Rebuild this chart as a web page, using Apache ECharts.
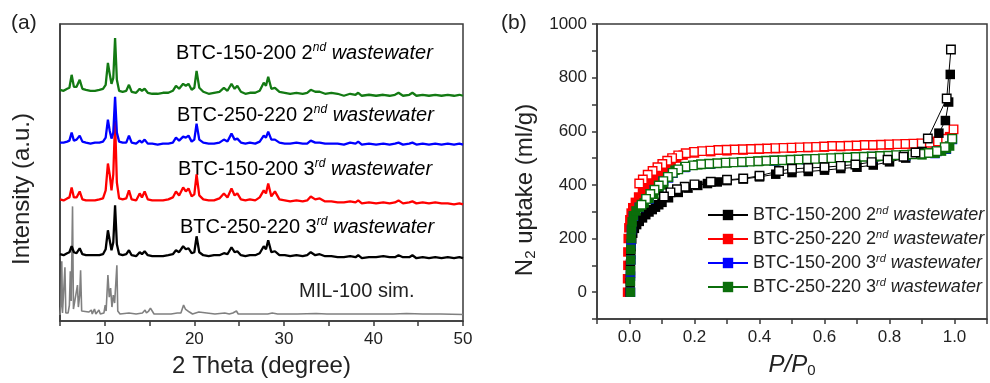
<!DOCTYPE html>
<html>
<head>
<meta charset="utf-8">
<script src="https://cdn.jsdelivr.net/npm/echarts@6/dist/echarts.min.js"></script>
<style>
    html, body { margin: 0; padding: 0; background: #fff; }
    #chart1 { width: 990px; height: 383px; }
</style>
</head>
<body>
<div id="chart1"></div>
<script>
// ---------- (a) XRD patterns ----------
var thetaExp = [5.0, 5.4, 5.8, 6.05, 6.3, 6.55, 6.85, 7.2, 7.5, 7.9,
    8.4, 8.9, 9.4, 9.8, 10.1, 10.35, 10.55, 10.75, 10.95, 11.15,
    11.35, 11.6, 12.0, 12.4, 12.7, 13.0, 13.5, 13.9, 14.15, 14.45,
    14.8, 15.3, 15.9, 16.5, 17.1, 17.6, 17.95, 18.3, 18.75, 19.05,
    19.35, 19.7, 20.0, 20.25, 20.55, 21.0, 21.6, 22.2, 22.8, 23.3,
    23.7, 24.15, 24.5, 24.8, 25.2, 25.7, 26.2, 26.8, 27.3, 27.75,
    28.0, 28.25, 28.6, 29.0, 29.5, 30.1, 30.7, 31.4, 32.1, 32.6,
    33.0, 33.5, 34.0, 34.6, 35.3, 36.0, 36.7, 37.4, 38.0, 38.3,
    38.7, 39.5, 40.3, 41.1, 41.8, 42.4, 42.8, 43.3, 44.0, 44.35,
    44.8, 45.5, 46.2, 46.9, 47.6, 48.3, 49.0, 49.6, 50.0];

var xrd150_2nd = [6, 5, 7, 8, 21, 9, 9, 16, 7, 6,
    5, 5, 6, 7, 11, 33, 22, 12, 18, 58,
    16, 5, 4, 5, 11, 4, 3, 7, 5, 7,
    3, 2, 2, 3, 3, 5, 10, 7, 12, 10,
    12, 6, 8, 25, 8, 4, 2, 3, 4, 8,
    5, 12, 7, 10, 4, 2, 3, 3, 5, 13,
    10, 19, 7, 8, 4, 3, 2, 3, 2, 3,
    6, 4, 4, 2, 3, 2, 0, 2, 1, 3,
    0, 1, 0, 1, 0, 1, 3, 0, 1, 3,
    0, 1, 0, 1, 0, 1, 0, 1, 0];

var xrd250_2nd = [2, 2, 3, 4, 12, 4, 5, 9, 3, 2,
    1, 2, 2, 3, 7, 25, 14, 6, 12, 48,
    12, 3, 2, 2, 9, 2, 1, 4, 2, 5,
    1, 1, 0, 1, 1, 2, 7, 4, 8, 7,
    9, 3, 5, 21, 5, 2, 1, 1, 2, 5,
    3, 11, 5, 6, 2, 1, 2, 1, 3, 9,
    7, 13, 5, 5, 2, 1, 1, 2, 1, 1,
    4, 2, 2, 1, 1, 1, 0, 2, 1, 3,
    0, 1, 0, 1, 0, 1, 2, 0, 1, 2,
    0, 1, 0, 1, 0, 1, 0, 1, 0];

var xrd150_3rd = [5, 4, 6, 7, 17, 7, 7, 13, 5, 4,
    4, 4, 5, 6, 14, 41, 30, 14, 30, 84,
    22, 6, 5, 6, 14, 5, 4, 11, 7, 13,
    5, 4, 4, 4, 5, 7, 13, 9, 17, 13,
    16, 8, 10, 30, 9, 5, 4, 4, 6, 11,
    7, 16, 9, 11, 5, 4, 5, 4, 7, 14,
    11, 21, 8, 13, 5, 4, 3, 4, 3, 4,
    8, 5, 6, 3, 3, 2, 2, 3, 2, 4,
    1, 2, 1, 2, 1, 2, 4, 1, 2, 3,
    1, 2, 1, 2, 1, 1, 0, 1, 0];

var xrd250_3rd = [4, 3, 5, 6, 12, 6, 5, 10, 4, 3,
    3, 3, 3, 4, 9, 28, 18, 8, 16, 53,
    14, 4, 3, 4, 8, 3, 2, 6, 4, 7,
    3, 2, 2, 2, 3, 4, 8, 6, 12, 9,
    10, 5, 6, 22, 6, 3, 2, 3, 3, 5,
    4, 11, 6, 7, 3, 2, 3, 3, 5, 12,
    9, 18, 6, 7, 3, 3, 2, 3, 2, 3,
    6, 3, 4, 2, 2, 1, 1, 2, 1, 3,
    0, 1, 1, 2, 1, 1, 3, 1, 1, 3,
    0, 1, 0, 1, 0, 1, 0, 1, 0];

var simTheta = [5.0, 5.1, 5.2, 5.28, 5.45, 5.55, 5.65, 5.9, 6.05, 6.15, 6.25, 6.4, 6.5, 6.7, 6.95, 7.05, 7.2, 7.3, 7.42, 7.6,
    8.2, 8.5, 8.6, 8.85, 9.0, 9.35, 9.5, 9.9, 10.05, 10.15, 10.35, 10.5, 10.65, 10.8, 10.95, 11.1, 11.35, 11.45, 11.7, 12.7,
    13.5, 14.2, 14.5, 14.65, 14.9, 15.1, 15.3, 15.5, 16.3, 17.4, 18.1, 18.3, 18.5, 18.8, 19.0, 19.2, 19.45, 19.6, 19.8, 20.5,
    20.7, 22.3, 23.4, 23.9, 24.3, 24.7, 24.9, 25.8, 27.2, 28.2, 28.7, 29.3, 31.5, 33.6, 34.8, 36.8, 38.5, 40.2, 42.2, 43.7,
    45.5, 47.5, 50.0];
var simInt = [0, 10, 54, 2, 3, 48, 2, 2, 10, 44, 14, 109, 6, 5, 30, 8, 20, 45, 4, 2,
    3, 5, 1, 6, 1, 5, 1, 2, 10, 4, 40, 18, 27, 8, 20, 12, 50, 4, 1, 2,
    1, 2, 5, 2, 4, 7, 6, 1, 1, 1, 2, 4, 2, 10, 6, 8, 3, 5, 1, 3,
    1, 1, 2, 1, 2, 4, 1, 1, 1, 1, 2, 1, 1, 1.5, 1, 1, 1, 1, 1, 1.5,
    1, 1, 0.5];

// vertical offsets of the stacked patterns (a.u.)
var stackBase = [226, 177, 117, 63, 6];

// ---------- (b) N2 isotherms  [P/P0, uptake ml/g] ----------
var iso150_2nd_ads = [[0.002, 0], [0.002, 35], [0.003, 70], [0.003, 105], [0.004, 140], [0.005, 170], [0.007, 198], [0.010, 220],
    [0.015, 238], [0.022, 252], [0.030, 264], [0.040, 277], [0.050, 289], [0.060, 299], [0.070, 308], [0.080, 317],
    [0.090, 326], [0.100, 335], [0.120, 352], [0.150, 372], [0.180, 388], [0.210, 398], [0.240, 405], [0.270, 411],
    [0.300, 416], [0.350, 422], [0.400, 430], [0.450, 440], [0.500, 446], [0.550, 450], [0.600, 455], [0.650, 461],
    [0.700, 466], [0.750, 474], [0.800, 486], [0.850, 500], [0.900, 525], [0.952, 593], [0.972, 640], [0.982, 709], [0.987, 812]];
var iso150_2nd_des = [[0.989, 905], [0.976, 722], [0.918, 573], [0.880, 521], [0.843, 505], [0.794, 494], [0.745, 485],
    [0.695, 476], [0.650, 471], [0.600, 466], [0.550, 463], [0.500, 460], [0.460, 452], [0.400, 434], [0.350, 424],
    [0.300, 419], [0.250, 412], [0.200, 402], [0.170, 393], [0.146, 384], [0.126, 372], [0.106, 357]];

var iso250_2nd_ads = [[-0.006, 0], [-0.006, 50], [-0.005, 100], [-0.005, 150], [-0.004, 200], [-0.002, 240], [0.001, 270],
    [0.005, 295], [0.010, 315], [0.018, 335], [0.028, 355], [0.040, 375], [0.053, 393], [0.067, 410], [0.082, 426],
    [0.097, 442], [0.112, 460], [0.128, 482], [0.145, 500], [0.165, 511], [0.200, 519], [0.250, 524], [0.300, 527],
    [0.350, 530], [0.400, 533], [0.450, 535], [0.500, 537], [0.550, 539], [0.600, 541], [0.650, 543], [0.700, 545],
    [0.750, 547], [0.800, 549], [0.850, 551], [0.900, 554], [0.940, 558], [0.965, 565], [0.985, 580]];
var iso250_2nd_des = [[0.997, 607], [0.972, 572], [0.948, 562], [0.923, 557], [0.898, 555], [0.873, 554], [0.848, 553],
    [0.823, 552], [0.798, 551], [0.773, 550], [0.748, 549], [0.723, 549], [0.698, 547], [0.673, 546], [0.648, 545],
    [0.623, 545], [0.598, 543], [0.573, 542], [0.548, 541], [0.523, 540], [0.498, 539], [0.473, 538], [0.448, 537],
    [0.423, 536], [0.398, 535], [0.373, 534], [0.348, 533], [0.323, 532], [0.298, 531], [0.273, 530], [0.248, 528],
    [0.223, 526], [0.198, 523], [0.173, 518], [0.150, 510], [0.131, 500], [0.116, 490], [0.101, 478], [0.086, 466],
    [0.071, 452], [0.056, 438], [0.041, 420], [0.030, 405]];

var iso150_3rd_ads = [[0.003, 0], [0.003, 60], [0.004, 120], [0.005, 180], [0.006, 232], [0.012, 283], [0.030, 316],
    [0.060, 347], [0.090, 381], [0.120, 426], [0.170, 465], [0.250, 478], [0.350, 484], [0.450, 490], [0.550, 494],
    [0.650, 498], [0.750, 502], [0.850, 508], [0.940, 517], [0.975, 533]];
var iso150_3rd_des = [[0.993, 570], [0.945, 525], [0.845, 511], [0.745, 505], [0.645, 500], [0.545, 495], [0.445, 490],
    [0.345, 485], [0.245, 478], [0.172, 467], [0.133, 444], [0.104, 413], [0.077, 381], [0.051, 347]];

var iso250_3rd_ads = [[0.003, 0], [0.003, 40], [0.003, 80], [0.004, 120], [0.004, 160], [0.005, 200], [0.006, 235],
    [0.008, 262], [0.012, 285], [0.020, 303], [0.030, 317], [0.045, 333], [0.060, 349], [0.075, 365], [0.090, 382],
    [0.105, 400], [0.120, 428], [0.140, 455], [0.170, 466], [0.210, 475], [0.250, 479], [0.300, 482], [0.350, 485],
    [0.400, 488], [0.450, 491], [0.500, 493], [0.550, 495], [0.600, 497], [0.650, 499], [0.700, 501], [0.750, 503],
    [0.800, 506], [0.850, 509], [0.900, 512], [0.940, 518], [0.960, 526], [0.975, 535], [0.985, 545]];
var iso250_3rd_des = [[0.993, 572], [0.970, 541], [0.945, 526], [0.920, 519], [0.895, 516], [0.870, 514], [0.845, 512],
    [0.820, 511], [0.795, 509], [0.770, 508], [0.745, 506], [0.720, 505], [0.695, 504], [0.670, 502], [0.645, 501],
    [0.620, 500], [0.595, 499], [0.570, 497], [0.545, 496], [0.520, 495], [0.495, 494], [0.470, 492], [0.445, 491],
    [0.420, 490], [0.395, 488], [0.370, 487], [0.345, 486], [0.320, 484], [0.295, 483], [0.270, 481], [0.245, 479],
    [0.220, 477], [0.195, 473], [0.172, 468], [0.150, 458], [0.133, 445], [0.118, 430], [0.104, 414], [0.090, 398],
    [0.077, 382], [0.064, 366], [0.051, 348], [0.037, 326]];

var legendNames = ['BTC-150-200 2nd wastewater', 'BTC-250-220 2nd wastewater',
    'BTC-150-200 3rd wastewater', 'BTC-250-220 3rd wastewater'];

var FONT = 'Liberation Sans';
var AXIS_COLOR = '#3a3a3a';
var TEXT_COLOR = '#222';

function richStyle(size) {
    return {
        n: {fontFamily: FONT, fontSize: size, lineHeight: size + 2, color: TEXT_COLOR},
        i: {fontFamily: FONT, fontSize: size, lineHeight: size + 2, color: TEXT_COLOR, fontStyle: 'italic'},
        s: {fontFamily: FONT, fontSize: Math.round(size * 0.6), lineHeight: Math.round(size * 0.6), color: TEXT_COLOR,
            fontStyle: 'italic', verticalAlign: 'top'}
    };
}

// 'BTC-150-200 2nd wastewater' -> rich string with superscript
function supText(name) {
    var m = name.match(/^(.* \d)(nd|rd) (.*)$/);
    return '{n|' + m[1] + '}{s|' + m[2] + '}{i| ' + m[3] + '}';
}

function xrdLine(name, base, vals, color) {
    var data = [];
    for (var i = 0; i < thetaExp.length; i++) {
        data.push([thetaExp[i], base + vals[i]]);
    }
    return {
        name: name, type: 'line', xAxisIndex: 0, yAxisIndex: 0, data: data,
        symbol: 'none', lineStyle: {color: color, width: 2.3}, silent: true
    };
}

function isoLine(name, data, color, hollow) {
    return {
        name: name, type: 'line', xAxisIndex: 1, yAxisIndex: 1, data: data,
        symbol: 'rect', symbolSize: hollow ? 8.5 : 9.5,
        itemStyle: hollow ? {color: '#fff', borderColor: color, borderWidth: 1.4} : {color: color},
        lineStyle: {color: color, width: 1},
        emphasis: {disabled: true}
    };
}

var simData = [];
for (var k = 0; k < simTheta.length; k++) {
    simData.push([simTheta[k], stackBase[4] + simInt[k]]);
}

var axisLineStyle = {onZero: false, lineStyle: {color: AXIS_COLOR, width: 1.5}};

var myChart = echarts.init(document.getElementById('chart1'));
var option = {
    animation: false,
    backgroundColor: '#fff',
    textStyle: {fontFamily: FONT},
    grid: [
        {left: 60, top: 24, width: 403, height: 298, show: true, borderColor: AXIS_COLOR, borderWidth: 1.5},
        {left: 597, top: 24, width: 405, height: 299, show: true, borderColor: AXIS_COLOR, borderWidth: 1.5}
    ],
    xAxis: [
        {
            gridIndex: 0, type: 'value', min: 5, max: 50, interval: 5,
            axisLine: axisLineStyle,
            axisTick: {length: 5, lineStyle: {color: AXIS_COLOR, width: 1.5}},
            axisLabel: {
                fontSize: 17, color: TEXT_COLOR, margin: 10,
                formatter: function (v) { return v % 10 === 0 ? String(v) : ''; }
            },
            splitLine: {show: false},
            name: '2 Theta (degree)', nameLocation: 'middle', nameGap: 33,
            nameTextStyle: {fontSize: 24, color: TEXT_COLOR}
        },
        {
            gridIndex: 1, type: 'value', min: -0.1, max: 1.1, interval: 0.1,
            axisLine: axisLineStyle,
            axisTick: {length: 5, lineStyle: {color: AXIS_COLOR, width: 1.5}},
            axisLabel: {
                fontSize: 17, color: TEXT_COLOR, margin: 10,
                formatter: function (v) {
                    var t = Math.round(v * 10);
                    return (t >= 0 && t <= 10 && t % 2 === 0) ? (t / 10).toFixed(1) : '';
                }
            },
            splitLine: {show: false},
            name: '{i|P/P}{b|0}', nameLocation: 'middle', nameGap: 33,
            nameTextStyle: {
                rich: {
                    i: {fontFamily: FONT, fontSize: 24, fontStyle: 'italic', color: TEXT_COLOR, lineHeight: 26},
                    b: {fontFamily: FONT, fontSize: 15, color: TEXT_COLOR, lineHeight: 10, verticalAlign: 'bottom'}
                }
            }
        }
    ],
    yAxis: [
        {
            gridIndex: 0, type: 'value', min: 0, max: 298,
            axisLine: {show: true, onZero: false, lineStyle: {color: AXIS_COLOR, width: 1.5}},
            axisTick: {show: false}, axisLabel: {show: false}, splitLine: {show: false}
        },
        {
            gridIndex: 1, type: 'value', min: -100, max: 1000, interval: 100,
            axisLine: {show: true, onZero: false, lineStyle: {color: AXIS_COLOR, width: 1.5}},
            axisTick: {length: 5, lineStyle: {color: AXIS_COLOR, width: 1.5}},
            axisLabel: {
                fontSize: 17, color: TEXT_COLOR, margin: 10,
                formatter: function (v) { return (v >= 0 && v % 200 === 0) ? String(v) : ''; }
            },
            splitLine: {show: false}
        }
    ],
    legend: {
        data: legendNames, orient: 'vertical', left: 702, top: 200,
        itemWidth: 40, itemHeight: 13, itemGap: 5, selectedMode: false,
        formatter: supText,
        textStyle: {rich: richStyle(18)}
    },
    graphic: [
        {type: 'text', left: 11, top: 13, style: {text: '(a)', fontFamily: FONT, fontSize: 21, fill: TEXT_COLOR}},
        {type: 'text', left: 501, top: 13, style: {text: '(b)', fontFamily: FONT, fontSize: 21, fill: TEXT_COLOR}},
        {type: 'text', x: 22, y: 189, rotation: Math.PI / 2,
            style: {text: 'Intensity (a.u.)', fontFamily: FONT, fontSize: 24, fill: TEXT_COLOR, align: 'center', verticalAlign: 'middle'}},
        {type: 'text', x: 525, y: 190, rotation: Math.PI / 2,
            style: {
                text: '{n|N}{b|2}{n| uptake (ml/g)}', align: 'center', verticalAlign: 'middle',
                rich: {
                    n: {fontFamily: FONT, fontSize: 24, lineHeight: 26, fill: TEXT_COLOR},
                    b: {fontFamily: FONT, fontSize: 15, lineHeight: 10, fill: TEXT_COLOR, verticalAlign: 'bottom'}
                }
            }},
        {type: 'text', x: 176, y: 53, style: {text: supText('BTC-150-200 2nd wastewater'), rich: richStyle(20), verticalAlign: 'middle'}},
        {type: 'text', x: 177, y: 115, style: {text: supText('BTC-250-220 2nd wastewater'), rich: richStyle(20), verticalAlign: 'middle'}},
        {type: 'text', x: 178, y: 169, style: {text: supText('BTC-150-200 3rd wastewater'), rich: richStyle(20), verticalAlign: 'middle'}},
        {type: 'text', x: 180, y: 227, style: {text: supText('BTC-250-220 3rd wastewater'), rich: richStyle(20), verticalAlign: 'middle'}},
        {type: 'text', x: 299, y: 291, style: {text: 'MIL-100 sim.', fontFamily: FONT, fontSize: 20, fill: TEXT_COLOR, verticalAlign: 'middle'}}
    ],
    series: [
        {
            name: 'MIL-100 sim.', type: 'line', xAxisIndex: 0, yAxisIndex: 0, data: simData,
            symbol: 'none', lineStyle: {color: '#808080', width: 1.6}, silent: true
        },
        xrdLine('xrd 250-220 3rd', stackBase[3], xrd250_3rd, '#000000'),
        xrdLine('xrd 150-200 3rd', stackBase[2], xrd150_3rd, '#ff0000'),
        xrdLine('xrd 250-220 2nd', stackBase[1], xrd250_2nd, '#0000ff'),
        xrdLine('xrd 150-200 2nd', stackBase[0], xrd150_2nd, '#137a13'),

        isoLine(legendNames[1], iso250_2nd_ads, '#ff0000', false),
        isoLine('des 250-220 2nd', iso250_2nd_des, '#ff0000', true),
        isoLine(legendNames[0], iso150_2nd_ads, '#000000', false),
        isoLine(legendNames[2], iso150_3rd_ads, '#0000ff', false),
        isoLine('des 150-200 3rd', iso150_3rd_des, '#0000ff', true),
        isoLine(legendNames[3], iso250_3rd_ads, '#0b6e0b', false),
        isoLine('des 250-220 3rd', iso250_3rd_des, '#0b6e0b', true),
        isoLine('des 150-200 2nd', iso150_2nd_des, '#000000', true)
    ]
};
myChart.setOption(option);
</script>
</body>
</html>
